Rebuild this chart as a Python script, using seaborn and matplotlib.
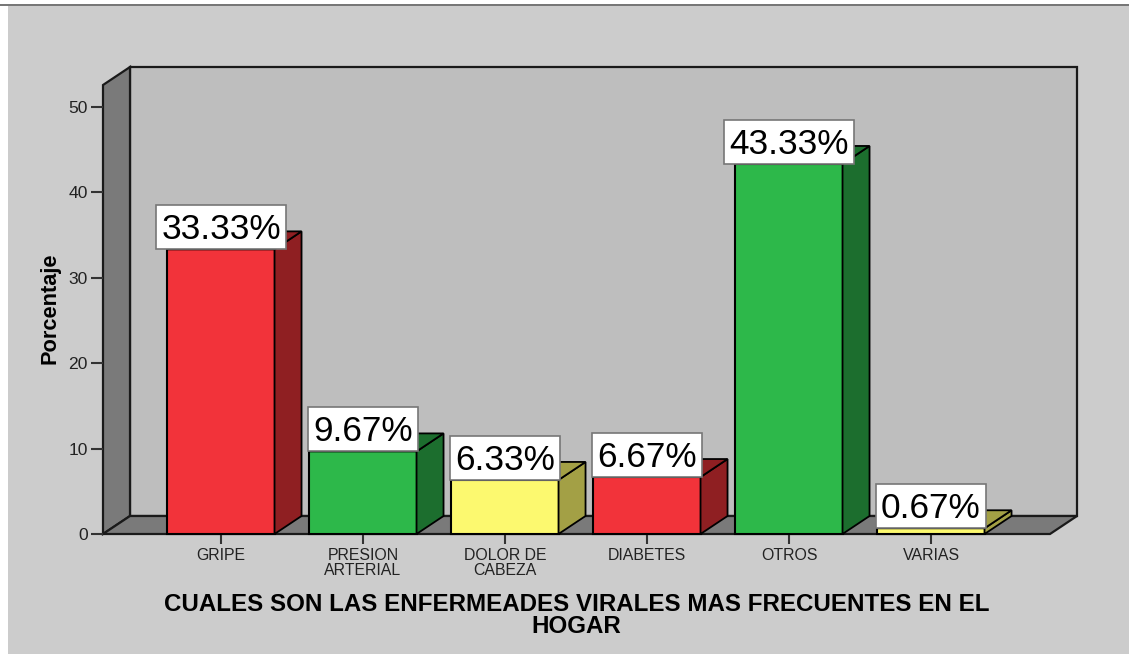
import pandas as pd
import seaborn as sns
import matplotlib
matplotlib.use('Agg')
import matplotlib.pyplot as plt
from matplotlib.patches import Polygon, Rectangle
from matplotlib.transforms import IdentityTransform

# Values
categorias = ['GRIPE', 'PRESION\nARTERIAL', 'DOLOR DE\nCABEZA', 'DIABETES', 'OTROS', 'VARIAS']
porcentajes = [33.33, 9.67, 6.33, 6.67, 43.33, 0.67]
etiquetas = ['33.33%', '9.67%', '6.33%', '6.67%', '43.33%', '0.67%']
colores = ['#F2333A', '#2DB84A', '#FCF96F', '#F2333A', '#2DB84A', '#FCF96F']
oscuros = ['#8F1F22', '#1C6E2E', '#A3A045', '#8F1F22', '#1C6E2E', '#A3A045']
ticks_y = [0, 10, 20, 30, 40, 50]
titulo = 'CUALES SON LAS ENFERMEADES VIRALES MAS FRECUENTES EN EL\nHOGAR'

W, H = 1129, 654
PX_X = 142.0    # pixels per category
PX_Y = 8.54     # pixels per percent
DX = 27 / PX_X  # 3D depth in data units
DY = 18 / PX_Y
LINEA = '#1a1a1a'

sns.set_style('white')
plt.rcParams['font.family'] = ['Liberation Sans', 'DejaVu Sans']

fig = plt.figure(figsize=(W / 100, H / 100), dpi=100, facecolor='white')
fig.patches.append(Rectangle((8 / W, 0), 1 - 8 / W, 1 - 6 / H, transform=fig.transFigure,
                             facecolor='#CCCCCC', edgecolor='none', zorder=-2))
fig.patches.append(Rectangle((0, 1 - 6 / H), 1, 2 / H, transform=fig.transFigure,
                             facecolor='#777777', edgecolor='none', zorder=-1))

ax = fig.add_axes([103 / W, (H - 534) / H, 947 / W, 449 / H])
ax.patch.set_alpha(0)

df = pd.DataFrame({'categoria': categorias, 'porcentaje': porcentajes})
sns.barplot(data=df, x='categoria', y='porcentaje', hue='categoria', palette=colores,
            dodge=False, legend=False, width=0.754, saturation=1,
            edgecolor='black', linewidth=1.5, ax=ax)
barras = list(ax.patches)

ax.set_xlim(-118 / PX_X, 829 / PX_X)
ax.set_ylim(0, 449 / PX_Y)
x0, x1 = ax.get_xlim()
y1 = ax.get_ylim()[1]

# Back wall, left wall and floor of the 3D box
pared = dict(edgecolor=LINEA, linewidth=1.6, clip_on=False, zorder=0.5)
ax.add_patch(Polygon([(x0 + DX, DY), (x1 + DX, DY), (x1 + DX, y1 + DY), (x0 + DX, y1 + DY)],
                     facecolor='#BEBEBE', **pared))
ax.add_patch(Polygon([(x0, 0), (x0 + DX, DY), (x0 + DX, y1 + DY), (x0, y1)],
                     facecolor='#7A7A7A', **pared))
ax.add_patch(Polygon([(x0, 0), (x1, 0), (x1 + DX, DY), (x0 + DX, DY)],
                     facecolor='#7A7A7A', **pared))

# Side and top faces of each bar, taken from the bars seaborn drew
for barra, oscuro in zip(barras, oscuros):
    izq, der, alto = barra.get_x(), barra.get_x() + barra.get_width(), barra.get_height()
    barra.set_clip_on(False)
    cara = dict(facecolor=oscuro, edgecolor='black', linewidth=1.3, clip_on=False, zorder=1)
    ax.add_patch(Polygon([(der, 0), (der + DX, DY), (der + DX, alto + DY), (der, alto)], **cara))
    ax.add_patch(Polygon([(izq, alto), (der, alto), (der + DX, alto + DY), (izq + DX, alto + DY)], **cara))

ax.set_yticks(ticks_y)
ax.tick_params(axis='y', left=True, length=9, width=1.5, color='#333333', labelsize=12.6,
               labelcolor='#222222', pad=2)
ax.tick_params(axis='x', bottom=True, length=7.2, width=1.5, color='#333333', labelsize=11.4,
               labelcolor='#222222', pad=2.8)
for t in ax.get_xticklabels():
    t.set_linespacing(1.0)
sns.despine(ax=ax, left=True, bottom=True, top=True, right=True)

ax.set_ylabel('Porcentaje', fontsize=15.7, fontweight='bold', color='black')
ax.yaxis.set_label_coords(-43 / 947, 0.503)
ax.set_xlabel(titulo, fontsize=17.4, fontweight='bold', color='black', linespacing=0.95)
ax.xaxis.set_label_coords(0.5, -59 / 449)
ax.xaxis.label.set_verticalalignment('top')

# White value boxes sitting on the top of each bar
renderer = fig.canvas.get_renderer()
for barra, etiqueta in zip(barras, etiquetas):
    cx = barra.get_x() + barra.get_width() / 2
    alto = barra.get_height()
    t = ax.annotate(etiqueta, (cx, alto), xytext=(0, 19.5 * 0.72), textcoords='offset points',
                    ha='center', va='center', fontsize=25.4, color='black', zorder=4,
                    annotation_clip=False)
    ancho = t.get_window_extent(renderer).width
    bx, by = ax.transData.transform((cx, alto))
    caja = Rectangle((bx - ancho / 2 - 5, by), ancho + 10, 44, transform=IdentityTransform(),
                     facecolor='white', edgecolor='#777777', linewidth=1.2,
                     clip_on=False, zorder=3)
    ax.add_artist(caja)

fig.savefig('out.png', dpi=100, facecolor=fig.get_facecolor())
